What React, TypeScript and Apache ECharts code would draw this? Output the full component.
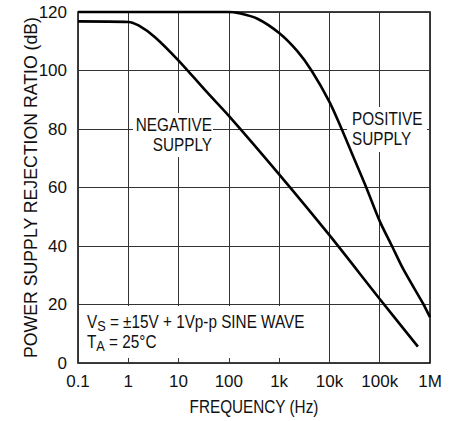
import React, { useEffect, useRef } from 'react';
import * as echarts from 'echarts';

const FONT = "'Liberation Sans', Arial, Helvetica, sans-serif";
const SX = 0.85; // horizontal squeeze of the original lettering

// x axis: frequency decades (log scale)
const xTickExponents = [-1, 0, 1, 2, 3, 4, 5, 6];
const xTickLabels = ['0.1', '1', '10', '100', '1k', '10k', '100k', '1M'];
const yTicks = [0, 20, 40, 60, 80, 100, 120];

// NEGATIVE SUPPLY curve
const negFreq = [0.1, 1, 1.6, 3.4, 10, 34, 100, 1000, 10000, 100000, 575000];
const negPsrr = [116.8, 116.6, 115.4, 111.4, 103.4, 93.2, 84.5, 64.5, 43.7, 21.9, 5.6];

// POSITIVE SUPPLY curve
const posFreq = [0.1, 100, 150, 370, 1000, 2300, 4400, 10000, 17500, 30000, 54000, 100000, 175000, 300000, 746000, 1000000];
const posPsrr = [120, 120, 119.7, 117.7, 112.8, 106.6, 100, 89.3, 80, 70.4, 60, 48.5, 40, 31.8, 20, 15.7];

const pair = (xs: number[], ys: number[]) => xs.map((x, i) => [x, ys[i]]);

export default function App() {
  const ref = useRef<HTMLDivElement>(null);
  useEffect(() => {
    if (!ref.current) return;
    const chart = echarts.init(ref.current, undefined, { renderer: 'svg' });
    const txt = '#111';
    chart.setOption({
      animation: false,
      backgroundColor: '#fff',
      grid: {
        left: 78, right: 25, top: 12, bottom: 58,
        show: true, borderColor: '#000', borderWidth: 1.5, backgroundColor: 'transparent',
      },
      xAxis: {
        type: 'log',
        logBase: 10,
        min: 0.1,
        max: 1000000,
        interval: 1,
        axisLine: { show: false },
        axisTick: { show: false },
        axisLabel: {
          fontFamily: FONT, fontSize: 17, color: txt, margin: 10,
          formatter: (v: number) => {
            const e = Math.round(Math.log10(v));
            const i = xTickExponents.indexOf(e);
            return i >= 0 ? xTickLabels[i] : '';
          },
        },
        splitLine: { show: true, lineStyle: { color: '#333', width: 1 } },
        minorTick: { show: false },
      },
      yAxis: {
        type: 'value',
        min: yTicks[0],
        max: yTicks[yTicks.length - 1],
        interval: 20,
        name: 'POWER SUPPLY REJECTION RATIO (dB)',
        nameLocation: 'middle',
        nameGap: 38,
        nameMoveOverlap: false,
        nameTextStyle: { fontFamily: FONT, fontSize: 17.7, color: txt },
        axisLine: { show: false },
        axisTick: { show: false },
        axisLabel: { fontFamily: FONT, fontSize: 17, color: txt, margin: 11 },
        splitLine: { show: true, lineStyle: { color: '#333', width: 1 } },
      },
      series: [
        {
          type: 'line',
          name: 'NEGATIVE SUPPLY',
          data: pair(negFreq, negPsrr),
          showSymbol: false,
          smooth: 0.3,
          clip: false,
          z: 5,
          lineStyle: { color: '#000', width: 2.6 },
        },
        {
          type: 'line',
          name: 'POSITIVE SUPPLY',
          data: pair(posFreq, posPsrr),
          showSymbol: false,
          smooth: 0.3,
          clip: false,
          z: 5,
          lineStyle: { color: '#000', width: 2.6 },
        },
      ],
      graphic: [
        {
          type: 'text', z: 2, x: 254, y: 407, scaleX: SX,
          style: { text: 'FREQUENCY (Hz)', align: 'center', verticalAlign: 'middle', fontFamily: FONT, fontSize: 18, fill: txt },
        },
        { type: 'rect', z: 1, shape: { x: 133, y: 113, width: 80, height: 44 }, style: { fill: '#fff' } },
        {
          type: 'text', z: 2, x: 212, y: 115, scaleX: SX,
          style: { text: 'NEGATIVE\nSUPPLY', align: 'right', verticalAlign: 'top', fontFamily: FONT, fontSize: 18, lineHeight: 20, fill: txt },
        },
        { type: 'rect', z: 1, shape: { x: 347, y: 107, width: 80, height: 45 }, style: { fill: '#fff' } },
        {
          type: 'text', z: 2, x: 352, y: 109, scaleX: SX,
          style: { text: 'POSITIVE\nSUPPLY', align: 'left', verticalAlign: 'top', fontFamily: FONT, fontSize: 18, lineHeight: 20, fill: txt },
        },
        { type: 'rect', z: 1, shape: { x: 79.5, y: 306, width: 243, height: 52 }, style: { fill: '#fff' } },
        {
          type: 'text', z: 2, x: 87, y: 312, scaleX: SX,
          style: {
            text: '{n|V}{s|S}{n| = ±15V + 1Vp-p SINE WAVE}\n{n|T}{s|A}{n| = 25°C}',
            align: 'left', verticalAlign: 'top', fill: txt,
            fontFamily: FONT, fontSize: 18, lineHeight: 20,
            rich: {
              n: { fontFamily: FONT, fontSize: 18, fill: txt, lineHeight: 20 },
              s: { fontFamily: FONT, fontSize: 15, fill: txt, lineHeight: 20, padding: [7, 0, 0, 0] },
            },
          },
        },
      ],
    });
    return () => chart.dispose();
  }, []);
  return <div ref={ref} style={{ position: 'fixed', left: 0, top: 0, width: 455, height: 421 }} />;
}
